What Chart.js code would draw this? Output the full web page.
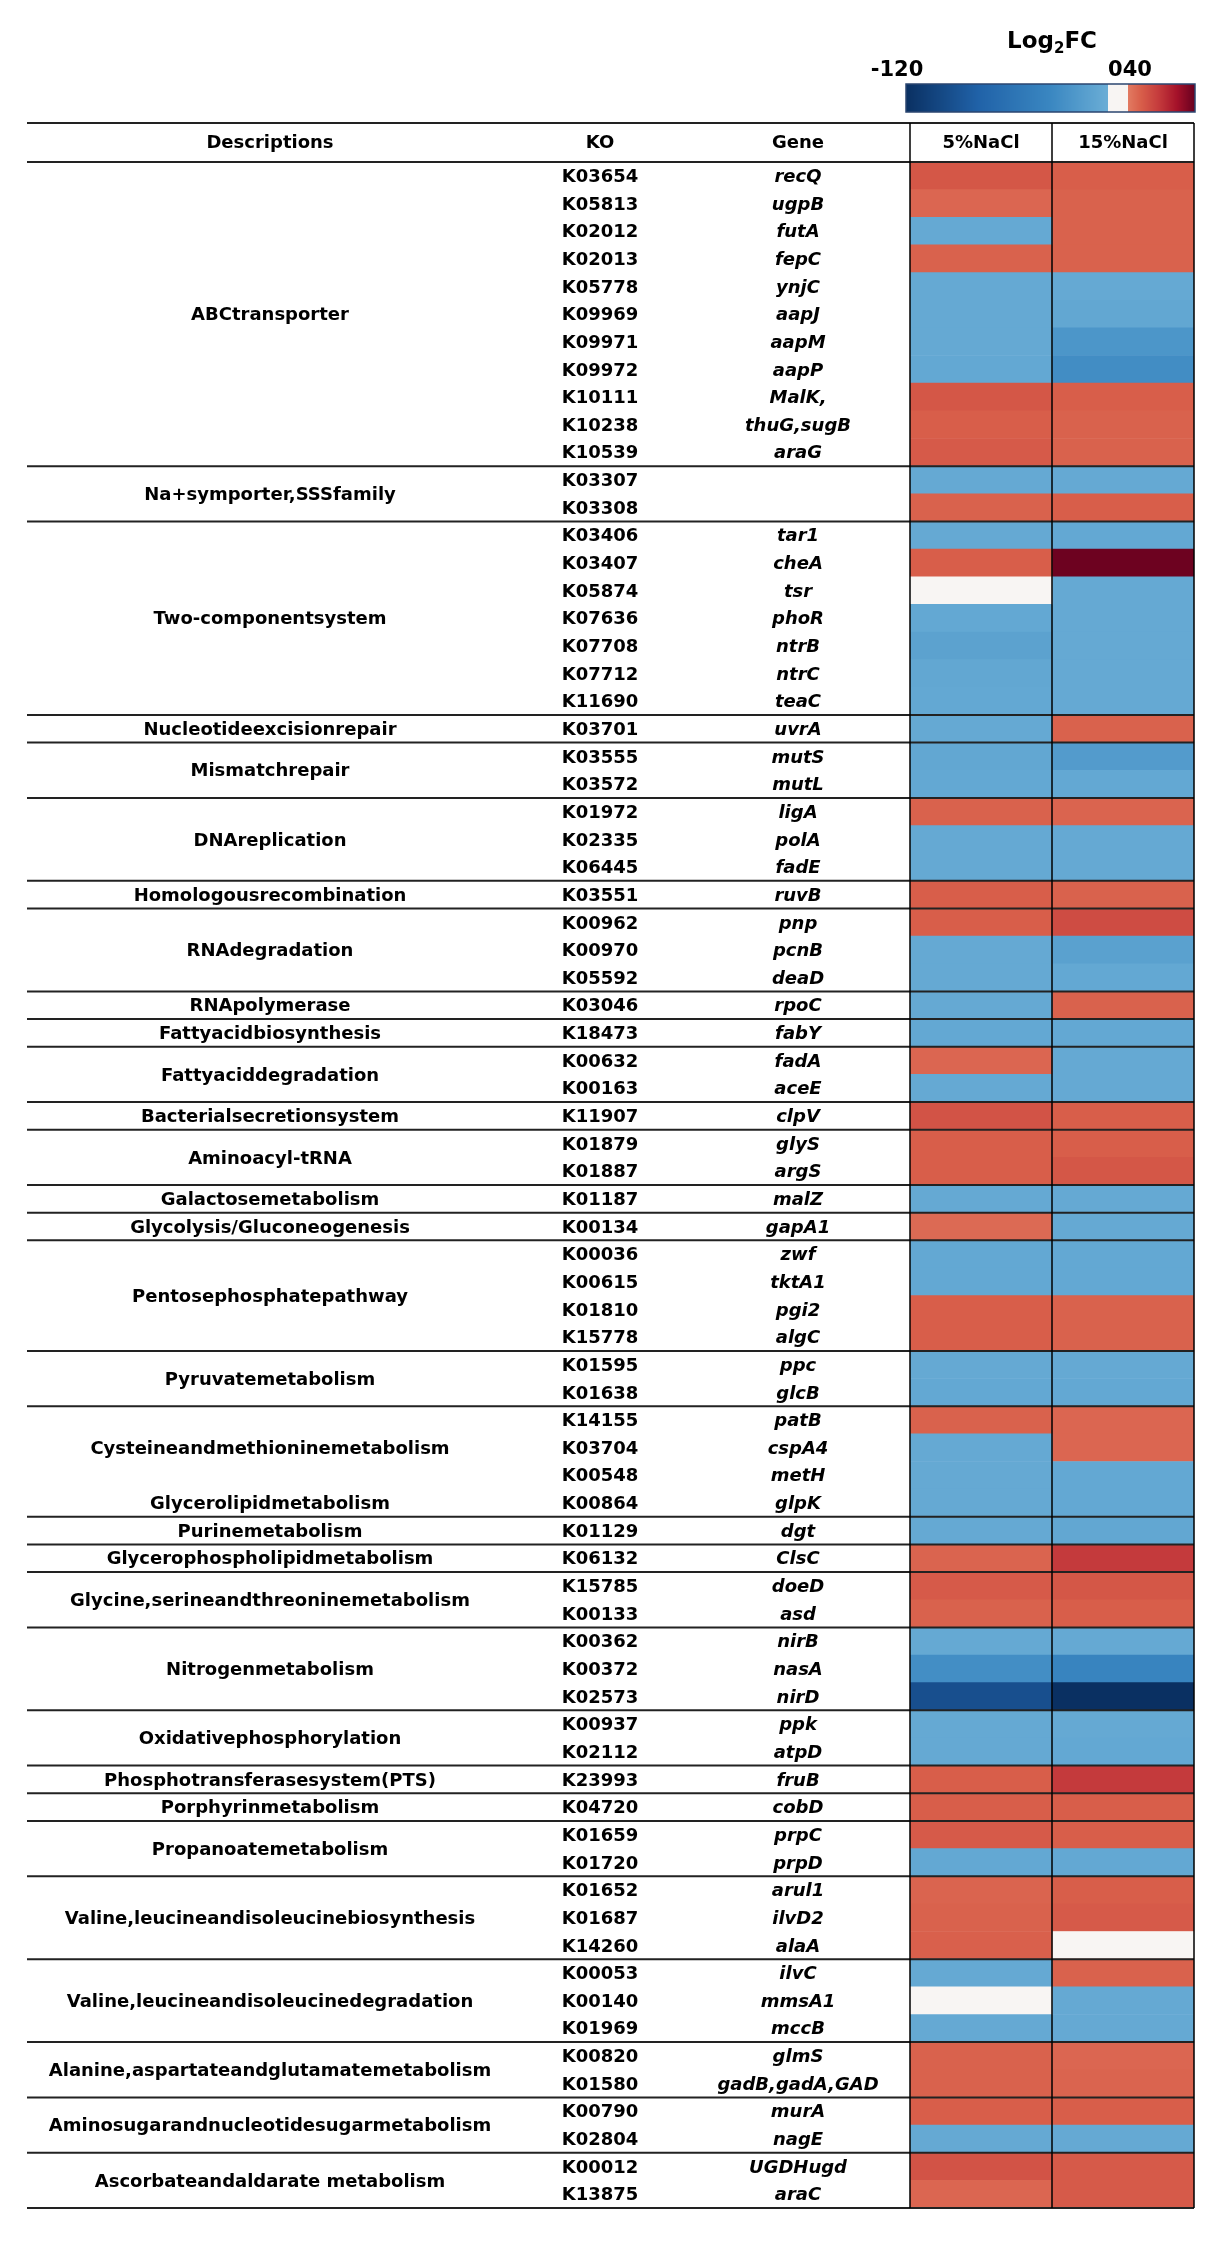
<!DOCTYPE html>
<html>
<head>
<meta charset="utf-8">
<title>Log2FC heatmap</title>
<script src="https://cdn.jsdelivr.net/npm/chart.js@4.4.1/dist/chart.umd.min.js"></script>
<style>
  body { margin: 0; background: #fff; }
  #wrap { position: relative; width: 1221px; height: 2244px; }
</style>
</head>
<body>
<div id="wrap"><canvas id="heatmap"></canvas></div>
<script>
// **Data

let groupNames = ['ABCtransporter', 'Na+symporter,SSSfamily', 'Two-componentsystem', 'Nucleotideexcisionrepair',
  'Mismatchrepair', 'DNAreplication', 'Homologousrecombination', 'RNAdegradation', 'RNApolymerase',
  'Fattyacidbiosynthesis', 'Fattyaciddegradation', 'Bacterialsecretionsystem', 'Aminoacyl-tRNA',
  'Galactosemetabolism', 'Glycolysis/Gluconeogenesis', 'Pentosephosphatepathway', 'Pyruvatemetabolism',
  'Cysteineandmethioninemetabolism', 'Glycerolipidmetabolism', 'Purinemetabolism',
  'Glycerophospholipidmetabolism', 'Glycine,serineandthreoninemetabolism', 'Nitrogenmetabolism',
  'Oxidativephosphorylation', 'Phosphotransferasesystem(PTS)', 'Porphyrinmetabolism', 'Propanoatemetabolism',
  'Valine,leucineandisoleucinebiosynthesis', 'Valine,leucineandisoleucinedegradation',
  'Alanine,aspartateandglutamatemetabolism', 'Aminosugarandnucleotidesugarmetabolism',
  'Ascorbateandaldarate metabolism'];
let groupSizes = [11, 2, 7, 1, 2, 3, 1, 3, 1, 1, 2, 1, 2, 1, 1, 4, 2, 3, 1, 1, 1, 2, 3, 2, 1, 1, 2, 3, 3, 2, 2, 2];
// groups that have no rule drawn under them
let joinedGroups = ['Cysteineandmethioninemetabolism'];

let koIds = ['K03654', 'K05813', 'K02012', 'K02013', 'K05778', 'K09969', 'K09971', 'K09972', 'K10111', 'K10238', 'K10539',
  'K03307', 'K03308',
  'K03406', 'K03407', 'K05874', 'K07636', 'K07708', 'K07712', 'K11690',
  'K03701',
  'K03555', 'K03572',
  'K01972', 'K02335', 'K06445',
  'K03551',
  'K00962', 'K00970', 'K05592',
  'K03046',
  'K18473',
  'K00632', 'K00163',
  'K11907',
  'K01879', 'K01887',
  'K01187',
  'K00134',
  'K00036', 'K00615', 'K01810', 'K15778',
  'K01595', 'K01638',
  'K14155', 'K03704', 'K00548',
  'K00864',
  'K01129',
  'K06132',
  'K15785', 'K00133',
  'K00362', 'K00372', 'K02573',
  'K00937', 'K02112',
  'K23993',
  'K04720',
  'K01659', 'K01720',
  'K01652', 'K01687', 'K14260',
  'K00053', 'K00140', 'K01969',
  'K00820', 'K01580',
  'K00790', 'K02804',
  'K00012', 'K13875'];

let genes = ['recQ', 'ugpB', 'futA', 'fepC', 'ynjC', 'aapJ', 'aapM', 'aapP', 'MalK,', 'thuG,sugB', 'araG',
  '', '',
  'tar1', 'cheA', 'tsr', 'phoR', 'ntrB', 'ntrC', 'teaC',
  'uvrA',
  'mutS', 'mutL',
  'ligA', 'polA', 'fadE',
  'ruvB',
  'pnp', 'pcnB', 'deaD',
  'rpoC',
  'fabY',
  'fadA', 'aceE',
  'clpV',
  'glyS', 'argS',
  'malZ',
  'gapA1',
  'zwf', 'tktA1', 'pgi2', 'algC',
  'ppc', 'glcB',
  'patB', 'cspA4', 'metH',
  'glpK',
  'dgt',
  'ClsC',
  'doeD', 'asd',
  'nirB', 'nasA', 'nirD',
  'ppk', 'atpD',
  'fruB',
  'cobD',
  'prpC', 'prpD',
  'arul1', 'ilvD2', 'alaA',
  'ilvC', 'mmsA1', 'mccB',
  'glmS', 'gadB,gadA,GAD',
  'murA', 'nagE',
  'UGDHugd', 'araC'];

// Log2FC, 5% NaCl
let fc5 = [1.2, 0.8, -1.2, 0.9, -1.2, -1.2, -1.2, -1.3, 1.2, 1.0, 1.1,
  -1.2, 0.9,
  -1.2, 1.0, 0, -1.3, -1.8, -1.4, -1.3,
  -1.2,
  -1.4, -1.3,
  0.9, -1.2, -1.2,
  1.0,
  1.0, -1.2, -1.2,
  -1.2,
  -1.3,
  0.8, -1.2,
  1.3,
  1.0, 1.0,
  -1.2,
  0.7,
  -1.3, -1.3, 1.0, 1.0,
  -1.2, -1.3,
  0.9, -1.2, -1.2,
  -1.2,
  -1.2,
  0.85,
  1.1, 0.9,
  -1.2, -3.4, -9.5,
  -1.2, -1.2,
  1.0,
  1.0,
  1.1, -1.3,
  0.85, 0.9, 0.95,
  -1.2, 0, -1.2,
  0.9, 0.9,
  1.0, -1.2,
  1.3, 0.8];

// Log2FC, 15% NaCl
let fc15 = [1.0, 0.9, 0.9, 0.9, -1.2, -1.4, -2.8, -3.5, 1.0, 0.9, 0.9,
  -1.2, 1.0,
  -1.3, 3.9, -1.2, -1.2, -1.2, -1.2, -1.2,
  0.9,
  -2.4, -1.3,
  0.85, -1.2, -1.2,
  0.9,
  1.5, -1.9, -1.3,
  0.9,
  -1.3,
  -1.2, -1.2,
  1.0,
  1.0, 1.2,
  -1.2,
  -1.2,
  -1.3, -1.3, 0.9, 0.9,
  -1.2, -1.3,
  0.8, 0.8, -1.3,
  -1.3,
  -1.4,
  2.0,
  1.2, 1.0,
  -1.2, -4.3, -12,
  -1.2, -1.3,
  2.0,
  1.0,
  1.0, -1.3,
  1.0, 1.1, 0,
  0.9, -1.2, -1.2,
  0.8, 0.85,
  1.0, -1.2,
  1.1, 1.1];

let columnNames = ['5%NaCl', '15%NaCl'];
let headerNames = ['Descriptions', 'KO', 'Gene'];
let scaleTicks = ['-120', '040'];
let scaleMin = -12;
let scaleMax = 4;

// **Colour scale

let blueStops = [[-12, [10, 48, 98]], [-8, [32, 98, 168]], [-4, [58, 135, 193]], [-0.8, [107, 174, 214]]];
let redStops = [[0.3, [226, 122, 97]], [1, [216, 94, 74]], [2, [196, 58, 60]], [3, [165, 18, 42]], [4, [103, 0, 31]]];

function interp(stops, v) {
  if (v <= stops[0][0]) return stops[0][1];
  for (let i = 1; i < stops.length; i++) {
    if (v <= stops[i][0]) {
      let a = stops[i - 1], b = stops[i];
      let t = (v - a[0]) / (b[0] - a[0]);
      return a[1].map((c, k) => Math.round(c + (b[1][k] - c) * t));
    }
  }
  return stops[stops.length - 1][1];
}

function fcColor(v) {
  let c;
  if (v <= -0.8) c = interp(blueStops, v);
  else if (v < 0.3) c = [248, 245, 243];
  else c = interp(redStops, v);
  return `rgb(${c[0]},${c[1]},${c[2]})`;
}

// **Table text, rules and colour bar

const tablePlugin = {
  id: 'tablePlugin',
  afterDatasetsDraw(chart) {
    const ctx = chart.ctx;
    const xs = chart.scales.x;
    const ys = chart.scales.y;
    const area = chart.chartArea;
    const rowH = ys.getPixelForValue(1) - ys.getPixelForValue(0);
    const rowTop = i => ys.getPixelForValue(i) - rowH / 2;
    const lineLeft = 27;
    const headTop = 123;
    const descX = 270, koX = 600, geneX = 798;

    ctx.save();
    ctx.fillStyle = '#000';
    ctx.textAlign = 'center';
    ctx.textBaseline = 'middle';

    // header
    ctx.font = 'bold 18px "DejaVu Sans"';
    let headY = (headTop + area.top) / 2 + 1;
    ctx.fillText(headerNames[0], descX, headY);
    ctx.fillText(headerNames[1], koX, headY);
    ctx.fillText(headerNames[2], geneX, headY);
    columnNames.forEach((name, i) => {
      ctx.fillText(name, (xs.getPixelForValue(i) + xs.getPixelForValue(i + 1)) / 2, headY);
    });

    // rows
    for (let i = 0; i < koIds.length; i++) {
      let yc = ys.getPixelForValue(i) + 1.5;
      ctx.font = 'bold 18px "DejaVu Sans"';
      ctx.fillText(koIds[i], koX, yc);
      ctx.font = 'italic bold 18px "DejaVu Sans"';
      ctx.fillText(genes[i], geneX, yc);
    }

    // group labels + rules
    ctx.font = 'bold 18px "DejaVu Sans"';
    ctx.strokeStyle = '#222';
    ctx.lineWidth = 2;
    let start = 0;
    groupNames.forEach((name, g) => {
      let end = start + groupSizes[g];
      let yc = (rowTop(start) + rowTop(end)) / 2 + 1.5;
      ctx.fillText(name, descX, yc);
      if (!joinedGroups.includes(name)) {
        ctx.beginPath();
        ctx.moveTo(lineLeft, rowTop(end));
        ctx.lineTo(area.right, rowTop(end));
        ctx.stroke();
      }
      start = end;
    });

    // header rules
    ctx.beginPath();
    ctx.moveTo(lineLeft, headTop);
    ctx.lineTo(area.right, headTop);
    ctx.moveTo(lineLeft, area.top);
    ctx.lineTo(area.right, area.top);
    ctx.stroke();

    // column dividers
    ctx.strokeStyle = '#000';
    ctx.lineWidth = 1.5;
    ctx.beginPath();
    for (let k = 0; k <= columnNames.length; k++) {
      let x = xs.getPixelForValue(k);
      ctx.moveTo(x, headTop);
      ctx.lineTo(x, area.bottom);
    }
    ctx.stroke();

    // colour bar
    let barL = 906, barR = 1195, barT = 84, barB = 112;
    for (let px = barL; px < barR; px++) {
      let v = scaleMin + (px + 0.5 - barL) / (barR - barL) * (scaleMax - scaleMin);
      ctx.fillStyle = fcColor(v);
      ctx.fillRect(px, barT, 1, barB - barT);
    }
    ctx.strokeStyle = '#2b4670';
    ctx.lineWidth = 1.5;
    ctx.strokeRect(barL, barT, barR - barL, barB - barT);

    // colour bar title: Log2FC
    ctx.fillStyle = '#000';
    ctx.textAlign = 'left';
    ctx.textBaseline = 'alphabetic';
    let big = 'bold 23px "DejaVu Sans"', small = 'bold 15px "DejaVu Sans"';
    ctx.font = big;
    let w1 = ctx.measureText('Log').width, w3 = ctx.measureText('FC').width;
    ctx.font = small;
    let w2 = ctx.measureText('2').width;
    let tx = 1052 - (w1 + w2 + w3) / 2;
    ctx.font = big;
    ctx.fillText('Log', tx, 48);
    ctx.font = small;
    ctx.fillText('2', tx + w1, 53);
    ctx.font = big;
    ctx.fillText('FC', tx + w1 + w2, 48);

    // colour bar ticks
    ctx.textAlign = 'center';
    ctx.font = 'bold 21px "DejaVu Sans"';
    ctx.fillText(scaleTicks[0], 897, 76);
    ctx.fillText(scaleTicks[1], 1130, 76);
    ctx.restore();
  }
};

// **Chart

let canvas = document.getElementById('heatmap');

let heatmap = new Chart(canvas, {
  type: 'bar',
  data: {
    labels: koIds,
    datasets: [
      {
        label: columnNames[0],
        data: fc5.map(() => [0, 1]),
        backgroundColor: fc5.map(fcColor),
        borderWidth: 0,
        grouped: false,
        barPercentage: 1,
        categoryPercentage: 1
      },
      {
        label: columnNames[1],
        data: fc15.map(() => [1, 2]),
        backgroundColor: fc15.map(fcColor),
        borderWidth: 0,
        grouped: false,
        barPercentage: 1,
        categoryPercentage: 1
      }
    ]
  },
  options: {
    indexAxis: 'y',
    responsive: true,
    maintainAspectRatio: false,
    animation: false,
    layout: { padding: { left: 910, right: 27, top: 162, bottom: 36 } },
    scales: {
      x: { type: 'linear', min: 0, max: 2, display: false },
      y: { type: 'category', display: false }
    },
    plugins: {
      legend: { display: false },
      tooltip: { enabled: false }
    }
  },
  plugins: [tablePlugin]
});
</script>
</body>
</html>
